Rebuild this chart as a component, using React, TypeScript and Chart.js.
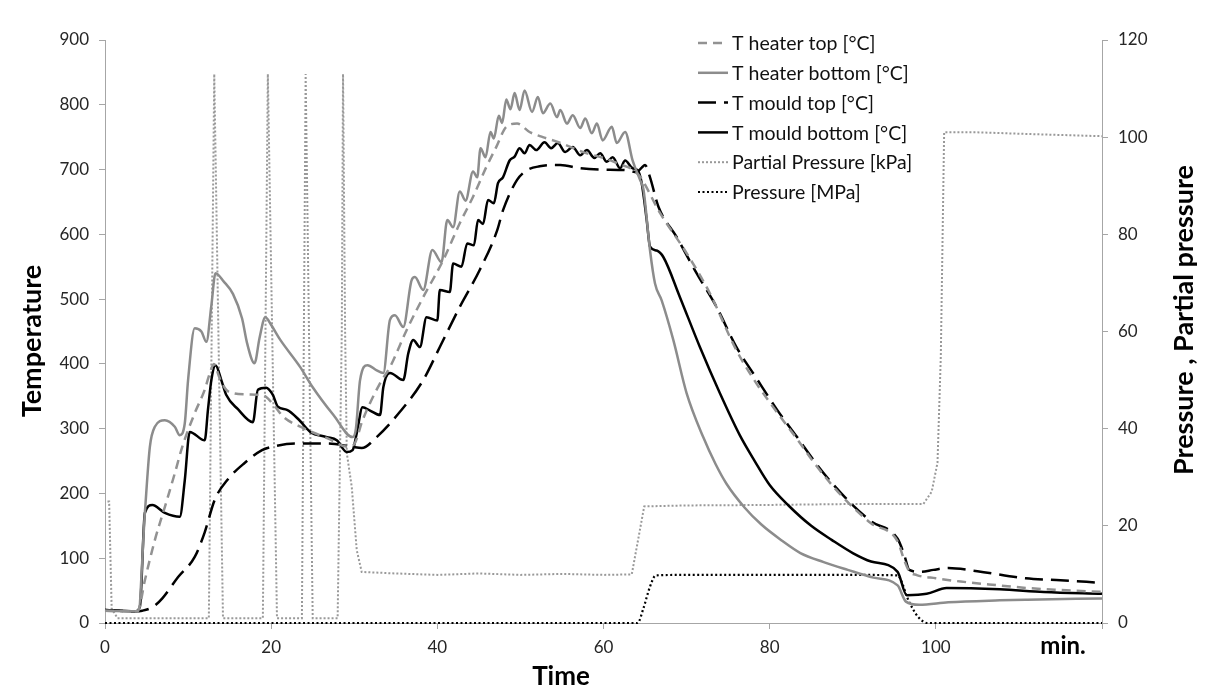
import React, { useEffect, useRef } from 'react';
import { Chart, registerables } from 'chart.js';

Chart.register(...registerables);

// ---------- data (time in minutes) ----------
const xTicks = [0, 20, 40, 60, 80, 100, 120];
const leftTicks = [0, 100, 200, 300, 400, 500, 600, 700, 800, 900];
const rightTicks = [0, 20, 40, 60, 80, 100, 120];

const heaterTopTime = [0, 3.5, 4.0, 4.8, 6.0, 7.2, 8.4, 9.3, 10.8, 12.0, 12.6, 13.1, 13.8, 14.6, 15.4, 17.0, 18.7, 19.4, 20.4, 21.5, 23.5, 26.8, 29.2, 30.0, 31.0, 33.1, 34.3, 36.3, 38.3, 40.7, 42.7, 44.3, 45.9, 47.1, 48.3, 49.6, 51.1, 52.7, 54.4, 56.0, 58.0, 60.0, 62.0, 63.5, 64.4, 66.8, 70.0, 72.8, 76.0, 78.4, 80.9, 83.3, 85.6, 87.5, 89.6, 92.2, 95.4, 96.2, 96.8, 97.7, 100.0, 103.0, 107.7, 111.0, 115.0, 120.0];
const heaterTopTemp = [19, 18, 20, 66, 128, 179, 231, 272, 324, 360, 385, 400, 378, 360, 355, 353, 352, 349, 335, 318, 303, 285, 272, 276, 313, 370, 395, 452, 503, 560, 617, 658, 704, 735, 766, 771, 758, 750, 743, 735, 725, 718, 708, 700, 689, 633, 571, 509, 421, 370, 325, 284, 243, 213, 184, 154, 126, 97, 80, 74, 69, 64, 58, 54, 51, 48];

const heaterBottomTime = [0, 4.0, 4.8, 5.4, 6.0, 7.2, 8.4, 9.0, 9.6, 10.0, 10.8, 11.6, 12.2, 12.8, 13.3, 14.3, 15.4, 16.5, 17.1, 18.0, 18.6, 19.3, 20.0, 21.1, 23.5, 25.0, 27.5, 29.8, 30.2, 30.7, 31.6, 32.7, 33.5, 34.3, 34.9, 35.9, 36.9, 37.3, 38.3, 39.4, 40.5, 41.2, 41.9, 42.7, 43.4, 44.3, 44.8, 45.2, 45.8, 46.4, 46.8, 47.4, 47.8, 48.3, 48.8, 49.3, 49.9, 50.5, 51.4, 52.1, 52.7, 53.6, 54.4, 54.8, 55.6, 56.3, 57.2, 57.8, 58.6, 59.2, 59.9, 61.0, 61.6, 62.6, 63.5, 64.4, 64.8, 65.6, 66.2, 67.0, 68.4, 70.0, 72.0, 73.5, 74.8, 77.0, 79.0, 81.5, 83.7, 86.5, 89.4, 92.5, 95.4, 96.4, 98.0, 101.5, 107.7, 111.0, 120.0];
const heaterBottomTemp = [19, 18, 170, 272, 303, 313, 303, 290, 308, 375, 455, 450, 434, 490, 540, 527, 508, 470, 432, 401, 440, 472, 460, 437, 395, 364, 321, 287, 300, 375, 398, 390, 386, 468, 475, 457, 529, 534, 514, 576, 557, 622, 611, 666, 652, 697, 688, 733, 719, 758, 748, 783, 772, 808, 793, 818, 792, 822, 789, 812, 787, 802, 781, 792, 771, 784, 764, 779, 756, 771, 745, 766, 741, 758, 714, 684, 670, 575, 524, 498, 437, 355, 287, 245, 215, 178, 152, 127, 108, 94, 82, 70, 58, 33, 28, 32, 35, 36, 38];

const mouldTopTime = [0, 3.6, 4.5, 5.8, 6.9, 8.8, 10.8, 12.0, 13.2, 14.8, 16.8, 18.9, 20.1, 22.9, 26.8, 29.7, 30.9, 32.7, 35.5, 38.3, 40.3, 42.7, 45.1, 47.2, 47.9, 49.6, 50.8, 52.3, 54.8, 57.2, 59.6, 62.8, 64.0, 64.6, 65.0, 65.6, 66.6, 68.8, 71.2, 73.6, 76.0, 78.4, 80.9, 83.3, 85.6, 87.5, 89.6, 92.2, 95.4, 96.2, 96.8, 98.2, 99.7, 101.5, 105.0, 110.8, 115.0, 120.0];
const mouldTopTemp = [20, 18, 19, 25, 38, 71, 102, 140, 190, 222, 247, 267, 272, 277, 277, 272, 270, 287, 326, 375, 426, 488, 545, 606, 637, 684, 699, 705, 707, 702, 700, 699, 696, 703, 707, 688, 643, 596, 540, 488, 426, 378, 329, 287, 246, 216, 187, 157, 130, 105, 82, 79, 82, 85, 80, 69, 66, 62];

const mouldBottomTime = [0, 3.6, 4.2, 4.8, 5.7, 7.2, 9.0, 9.6, 10.2, 12.0, 12.4, 12.8, 13.3, 14.0, 14.6, 16.0, 17.8, 18.4, 19.4, 20.2, 20.8, 21.9, 23.4, 24.7, 26.7, 27.9, 29.1, 29.8, 30.3, 31.0, 31.9, 33.1, 33.5, 34.3, 35.9, 36.5, 37.1, 37.9, 38.7, 40.0, 40.3, 41.5, 41.9, 42.9, 43.6, 44.4, 44.9, 45.5, 46.1, 46.8, 47.3, 47.9, 48.7, 49.3, 49.9, 50.5, 51.1, 51.9, 52.9, 53.7, 54.5, 55.4, 56.3, 57.2, 58.0, 58.9, 59.6, 60.4, 61.1, 62.0, 62.6, 63.5, 64.1, 64.6, 65.2, 65.6, 66.4, 67.2, 69.2, 71.6, 74.0, 76.4, 78.2, 80.0, 82.3, 85.0, 87.5, 90.0, 92.2, 95.4, 96.5, 98.9, 101.3, 107.7, 113.0, 120.0];
const mouldBottomTemp = [20, 18, 25, 170, 182, 170, 164, 220, 295, 282, 330, 375, 398, 375, 352, 330, 310, 360, 363, 352, 334, 329, 313, 295, 287, 282, 264, 267, 293, 333, 328, 321, 364, 386, 375, 416, 437, 426, 472, 467, 514, 511, 555, 550, 586, 583, 622, 616, 653, 648, 679, 688, 714, 720, 733, 725, 738, 730, 742, 733, 741, 727, 735, 722, 730, 718, 725, 712, 719, 702, 714, 702, 699, 679, 622, 581, 575, 565, 503, 426, 355, 290, 250, 213, 181, 150, 128, 108, 95, 79, 43, 45, 54, 52, 48, 45];

const partialTime = [0.3, 0.5, 0.8, 1.5, 12.5, 13.15, 14.2, 19.0, 19.6, 20.7, 23.7, 24.15, 25.0, 28.0, 28.5, 28.65, 28.9, 29.1, 29.7, 30.3, 30.9, 35.0, 40.0, 45.0, 50.0, 55.0, 60.0, 63.4, 64.9, 70.0, 80.0, 90.0, 98.5, 99.5, 100.2, 100.6, 101.0, 105.0, 112.0, 120.0];
const partialValue = [25, 25, 3, 1, 1, 113, 1, 1, 113, 1, 1, 113, 1, 1, 60, 113, 60, 35, 28, 15, 10.5, 10.2, 9.9, 10.2, 9.9, 10.1, 9.9, 10, 24, 24.2, 24.3, 24.5, 24.5, 27, 33, 55, 101, 101, 100.6, 100.2];

const pressureTime = [0, 64.1, 64.8, 65.6, 66.3, 70, 80, 90, 95.4, 96.0, 96.5, 97.2, 98.0, 99.0, 120];
const pressureValue = [0, 0, 3, 7.5, 9.8, 9.9, 9.9, 9.9, 9.8, 8, 5.5, 3, 1, 0, 0];

const seriesLabels = [
  'T heater top [°C]',
  'T heater bottom [°C]',
  'T mould top [°C]',
  'T mould bottom [°C]',
  'Partial Pressure [kPa]',
  'Pressure [MPa]',
];

const FONT = 'Lato';
const AXIS = '#a6a6a6';
const TEXT = '#262626';

const pts = (t: number[], v: number[]) => t.map((x, i) => ({ x, y: v[i] }));

const overlayPlugin = {
  id: 'overlay',
  afterDraw(chart: any) {
    const ctx = chart.ctx as CanvasRenderingContext2D;
    ctx.save();
    // legend
    chart.data.datasets.forEach((ds: any, i: number) => {
      const y = 35 + i * 29.8;
      ctx.beginPath();
      ctx.setLineDash(ds.borderDash || []);
      ctx.lineCap = ds.borderCapStyle || 'butt';
      ctx.strokeStyle = ds.borderColor;
      ctx.lineWidth = ds.borderWidth;
      ctx.moveTo(690, y);
      ctx.lineTo(720, y);
      ctx.stroke();
      ctx.setLineDash([]);
      ctx.fillStyle = '#111';
      ctx.font = `19.5px ${FONT}`;
      ctx.textAlign = 'left';
      ctx.textBaseline = 'middle';
      ctx.fillText(ds.label, 724, y + 1);
    });
    // titles
    ctx.fillStyle = '#000';
    ctx.textAlign = 'center';
    ctx.textBaseline = 'middle';
    ctx.font = `bold 27px ${FONT}`;
    ctx.save();
    ctx.translate(24, 333);
    ctx.rotate(-Math.PI / 2);
    ctx.fillText('Temperature', 0, 0);
    ctx.restore();
    ctx.save();
    ctx.translate(1176, 312);
    ctx.rotate(-Math.PI / 2);
    ctx.fillText('Pressure , Partial pressure', 0, 0);
    ctx.restore();
    ctx.textBaseline = 'alphabetic';
    ctx.font = `bold 26px ${FONT}`;
    ctx.fillText('Time', 553, 677);
    ctx.font = `bold 24px ${FONT}`;
    ctx.fillText('min.', 1055, 646);
    ctx.restore();
  },
};

export default function App() {
  const ref = useRef<HTMLCanvasElement | null>(null);

  useEffect(() => {
    if (!ref.current) return;
    Chart.defaults.font.family = FONT;
    const tickFont = { size: 17, family: FONT };
    const chart = new Chart(ref.current, {
      type: 'line',
      data: {
        datasets: [
          {
            label: seriesLabels[0],
            data: pts(heaterTopTime, heaterTopTemp),
            borderColor: '#929292',
            borderWidth: 2.5,
            borderDash: [9, 6],
            yAxisID: 'y',
            clip: 4,
          },
          {
            label: seriesLabels[1],
            data: pts(heaterBottomTime, heaterBottomTemp),
            borderColor: '#8c8c8c',
            borderWidth: 2.5,
            yAxisID: 'y',
            clip: 4,
          },
          {
            label: seriesLabels[2],
            data: pts(mouldTopTime, mouldTopTemp),
            borderColor: '#000000',
            borderWidth: 2.5,
            borderDash: [18, 8],
            yAxisID: 'y',
            clip: 4,
          },
          {
            label: seriesLabels[3],
            data: pts(mouldBottomTime, mouldBottomTemp),
            borderColor: '#000000',
            borderWidth: 2.5,
            yAxisID: 'y',
            clip: 4,
          },
          {
            label: seriesLabels[4],
            data: pts(partialTime, partialValue),
            borderColor: '#999999',
            borderWidth: 2,
            borderDash: [2, 2],
            cubicInterpolationMode: 'default',
            tension: 0,
            yAxisID: 'y2',
            clip: 4,
          },
          {
            label: seriesLabels[5],
            data: pts(pressureTime, pressureValue),
            borderColor: '#000000',
            borderWidth: 2.2,
            borderDash: [2, 2.5],
            yAxisID: 'y2',
            clip: 4,
          },
        ] as any,
      },
      options: {
        animation: false,
        responsive: false,
        devicePixelRatio: 1,
        layout: { padding: { top: 32, left: 0, right: 0, bottom: 0 } },
        elements: {
          point: { radius: 0 },
          line: { cubicInterpolationMode: 'monotone', fill: false },
        },
        plugins: {
          legend: { display: false },
          tooltip: { enabled: false },
        },
        scales: {
          x: {
            type: 'linear',
            min: 0,
            max: 120,
            afterBuildTicks: (s: any) => {
              s.ticks = xTicks.map((v) => ({ value: v }));
            },
            ticks: {
              font: tickFont,
              color: TEXT,
              padding: 8,
              maxRotation: 0,
              callback: (v: any) => (v === 120 ? '' : String(v)),
            },
            grid: { drawOnChartArea: false, drawTicks: true, tickLength: 6, color: AXIS },
            border: { color: AXIS, width: 1 },
            afterFit: (s: any) => {
              s.height = 67;
            },
          },
          y: {
            type: 'linear',
            position: 'left',
            min: 0,
            max: 900,
            afterBuildTicks: (s: any) => {
              s.ticks = leftTicks.map((v) => ({ value: v }));
            },
            ticks: { font: tickFont, color: TEXT, padding: 10 },
            grid: { drawOnChartArea: false, drawTicks: true, tickLength: 6, color: AXIS },
            border: { color: AXIS, width: 1 },
            afterFit: (s: any) => {
              s.width = 97;
            },
          },
          y2: {
            type: 'linear',
            position: 'right',
            min: 0,
            max: 120,
            afterBuildTicks: (s: any) => {
              s.ticks = rightTicks.map((v) => ({ value: v }));
            },
            ticks: { font: tickFont, color: TEXT, padding: 10 },
            grid: { drawOnChartArea: false, drawTicks: true, tickLength: 6, color: AXIS },
            border: { color: AXIS, width: 1 },
            afterFit: (s: any) => {
              s.width = 106;
            },
          },
        },
      } as any,
      plugins: [overlayPlugin as any],
    });
    return () => chart.destroy();
  }, []);

  return (
    <div
      style={{
        marginLeft: -1,
        marginTop: -1,
        borderLeft: '1px solid #8c8c8c',
        borderTop: '1px solid #8c8c8c',
        width: 1200,
        height: 682,
        background: '#fff',
      }}
    >
      <canvas ref={ref} width={1200} height={682} style={{ display: 'block', width: 1200, height: 682 }} />
    </div>
  );
}
